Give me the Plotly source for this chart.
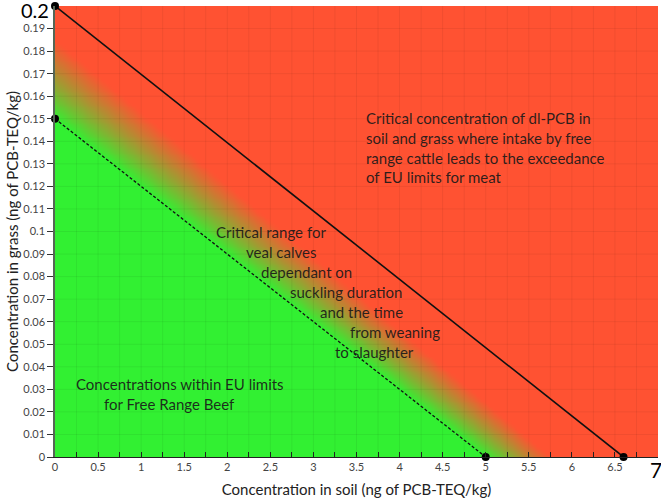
import numpy as np
import plotly.graph_objects as go

# ---- data ----
solid_line_x = [0, 6.6]          # critical concentration line (soil)
solid_line_y = [0.2, 0]          # critical concentration line (grass)
dashed_line_x = [0, 5]           # EU-limit line for free range beef
dashed_line_y = [0.15, 0]
gradient_end_x = 5.75            # where the critical (gradient) band turns fully red
gradient_end_y = 0.185

x_tick_vals = [0, 0.5, 1, 1.5, 2, 2.5, 3, 3.5, 4, 4.5, 5, 5.5, 6, 6.5]
x_tick_text = ["0", "0.5", "1", "1.5", "2", "2.5", "3", "3.5", "4", "4.5", "5", "5.5", "6", "6.5"]
y_tick_vals = [0, 0.01, 0.02, 0.03, 0.04, 0.05, 0.06, 0.07, 0.08, 0.09, 0.1,
               0.11, 0.12, 0.13, 0.14, 0.15, 0.16, 0.17, 0.18, 0.19]
y_tick_text = ["0", "0.01", "0.02", "0.03", "0.04", "0.05", "0.06", "0.07", "0.08", "0.09", "0.1",
               "0.11", "0.12", "0.13", "0.14", "0.15", "0.16", "0.17", "0.18", "0.19"]
x_end_label = "7"
y_end_label = "0.2"
x_grid_step = 0.25
y_grid_step = 0.01
x_max = 7
y_max = 0.2

GREEN = "rgb(50,240,50)"
RED = "rgb(255,82,50)"
FONT = "Lato"

L, T_, R, B = 55, 6, 3, 43
W, H = 661, 500
pw, ph = W - L - R, H - T_ - B


def px(xp):
    return (xp - L) / pw


def py(yp):
    return (H - B - yp) / ph


fig = go.Figure()

# background gradient (green -> red across the critical band)
gx = np.linspace(0, x_max, 141)
gy = np.linspace(0, y_max, 161)
GX, GY = np.meshgrid(gx, gy)
f1 = GX / dashed_line_x[1] + GY / dashed_line_y[0]
f2 = GX / gradient_end_x + GY / gradient_end_y
with np.errstate(divide="ignore", invalid="ignore"):
    T = np.where(f1 > 1, (f1 - 1) / (f1 - f2), 0.0)
T = np.clip(np.nan_to_num(T), 0, 1)
fig.add_trace(go.Heatmap(x=gx, y=gy, z=T, zmin=0, zmax=1,
                         colorscale=[[0, GREEN], [1, RED]], showscale=False,
                         zsmooth="best", hoverinfo="skip"))

# faint grid
grid_x, grid_y = [], []
for v in np.arange(x_grid_step, x_max, x_grid_step):
    grid_x += [v, v, None]
    grid_y += [0, y_max, None]
for v in np.arange(y_grid_step, y_max - 1e-9, y_grid_step):
    grid_x += [0, x_max, None]
    grid_y += [v, v, None]
fig.add_trace(go.Scatter(x=grid_x, y=grid_y, mode="lines",
                         line=dict(color="rgba(0,0,0,0.06)", width=1),
                         hoverinfo="skip", showlegend=False))

# lines
fig.add_trace(go.Scatter(x=dashed_line_x, y=dashed_line_y, mode="lines+markers",
                         line=dict(color="#111", width=1.3, dash="3px,2px"),
                         marker=dict(color="black", size=8), cliponaxis=False,
                         hoverinfo="skip", showlegend=False))
fig.add_trace(go.Scatter(x=solid_line_x, y=solid_line_y, mode="lines+markers",
                         line=dict(color="#111", width=1.6),
                         marker=dict(color="black", size=8), cliponaxis=False,
                         hoverinfo="skip", showlegend=False))

anns = []
txt_col = "rgba(25,25,25,0.92)"
blockA = ["Critical concentration of dl-PCB in", "soil and grass where intake by free",
          "range cattle leads to the exceedance", "of EU limits for meat"]
for i, t in enumerate(blockA):
    anns.append(dict(x=px(364), y=py(118 + 19.8 * i), text=t))
blockB = [("Critical range for", 214), ("veal calves", 244), ("dependant on", 259),
          ("suckling duration", 288), ("and the time", 318), ("from weaning", 348),
          ("to slaughter", 333)]
for i, (t, xx) in enumerate(blockB):
    anns.append(dict(x=px(xx), y=py(232 + 20 * i), text=t))
blockC = [("Concentrations within EU limits", 74), ("for Free Range Beef", 102)]
for i, (t, xx) in enumerate(blockC):
    anns.append(dict(x=px(xx), y=py(384 + 20 * i), text=t))
for a in anns:
    a.update(xref="paper", yref="paper", xanchor="left", yanchor="middle",
             showarrow=False, font=dict(family=FONT, size=15, color=txt_col))

# big end-of-axis labels
anns.append(dict(x=px(50), y=py(10), xref="paper", yref="paper", text=y_end_label,
                 showarrow=False, xanchor="right", yanchor="middle", borderpad=0,
                 font=dict(family=FONT, size=20, color="black")))
anns.append(dict(x=px(656), y=py(469), xref="paper", yref="paper", text=x_end_label,
                 showarrow=False, xanchor="center", yanchor="middle", borderpad=0,
                 font=dict(family=FONT, size=21, color="black")))

fig.update_layout(
    width=W, height=H, margin=dict(l=L, r=R, t=T_, b=B),
    paper_bgcolor="white", plot_bgcolor="white",
    showlegend=False, annotations=anns,
    font=dict(family=FONT, color="#333"),
)
fig.update_xaxes(range=[0, x_max], showgrid=False, zeroline=False, automargin=False,
                 tickvals=x_tick_vals, ticktext=x_tick_text,
                 ticks="inside", ticklen=5, tickcolor="#222",
                 tickfont=dict(family=FONT, size=11, color="#444"),
                 minor=dict(dtick=x_grid_step, tick0=0, ticks="inside", ticklen=5, tickcolor="#222"),
                 showline=True, linecolor="#222", linewidth=1.2, layer="above traces",
                 title=dict(text="Concentration in soil (ng of PCB-TEQ/kg)", standoff=12,
                            font=dict(family=FONT, size=15, color="#222")))
fig.update_yaxes(range=[0, y_max], showgrid=False, zeroline=False, automargin=False,
                 tickvals=y_tick_vals, ticktext=y_tick_text,
                 ticks="outside", ticklen=6, tickcolor="#333",
                 tickfont=dict(family=FONT, size=11, color="#444"),
                 showline=True, linecolor="#556655", linewidth=1.5, layer="above traces",
                 title=dict(text="Concentration in grass (ng of PCB-TEQ/kg)", standoff=1,
                            font=dict(family=FONT, size=15, color="#222")))

fig.write_html("out.html", config={"displayModeBar": False},
               post_script="document.body.style.margin='0';document.body.style.overflow='hidden';")
